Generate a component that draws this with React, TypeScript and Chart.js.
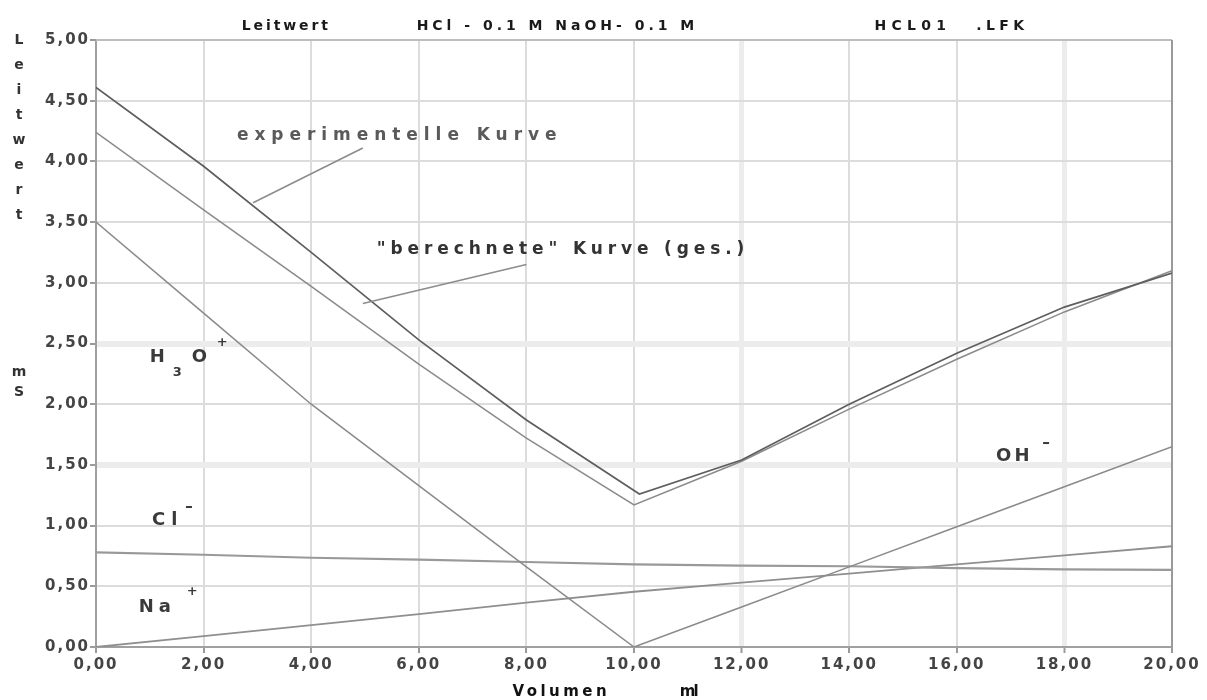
import React, { useEffect, useRef } from "react";
import { Chart, registerables } from "chart.js";

Chart.register(...registerables);

// ---- data ----
const volume = [0, 2, 4, 6, 8, 10, 12, 14, 16, 18, 20];
const expVolume = [0, 2, 4, 6, 8, 10.1, 12, 14, 16, 18, 20];
const expValues = [4.61, 3.96, 3.25, 2.53, 1.87, 1.26, 1.54, 2.0, 2.42, 2.8, 3.08];
const calcValues = [4.24, 3.6, 2.97, 2.33, 1.72, 1.17, 1.53, 1.96, 2.37, 2.76, 3.1];
const h3oVolume = [0, 2, 4, 6, 8, 10];
const h3oValues = [3.5, 2.75, 2.0, 1.33, 0.66, 0];
const ohVolume = [10, 12, 14, 16, 18, 20];
const ohValues = [0, 0.33, 0.66, 0.99, 1.32, 1.65];
const clValues = [0.78, 0.76, 0.735, 0.72, 0.7, 0.68, 0.67, 0.665, 0.65, 0.64, 0.635];
const naValues = [0, 0.09, 0.18, 0.27, 0.365, 0.455, 0.53, 0.605, 0.68, 0.755, 0.83];

const xTicksMin = 0;
const xTicksMax = 20;
const xStep = 2;
const yTicksMin = 0;
const yTicksMax = 5;
const yStep = 0.5;

const titleParts = [
  { text: "Leitwert", x0: 2.71, x1: 4.31 },
  { text: "HCl - 0.1 M NaOH- 0.1 M", x0: 5.96, x1: 11.12 },
  { text: "HCL01", x0: 14.47, x1: 15.8 },
  { text: ".LFK", x0: 16.36, x1: 17.25 },
];
const yTitleTop = ["L", "e", "i", "t", "w", "e", "r", "t"];
const yTitleUnit = ["m", "S"];
const xTitleParts = [
  { text: "Volumen", x0: 7.74, x1: 9.49 },
  { text: "ml", x0: 10.85, x1: 11.2 },
];

const zip = (xs: number[], ys: number[]) => xs.map((x, i) => ({ x, y: ys[i] }));

function spacedText(ctx: CanvasRenderingContext2D, text: string, x0: number, x1: number, y: number) {
  (ctx as any).letterSpacing = "0px";
  const w = ctx.measureText(text).width;
  const sp = text.length > 1 ? (x1 - x0 - w) / (text.length - 1) : 0;
  (ctx as any).letterSpacing = sp + "px";
  ctx.textAlign = "left";
  ctx.fillText(text, x0, y);
  (ctx as any).letterSpacing = "0px";
}

function plainText(ctx: CanvasRenderingContext2D, text: string, x: number, y: number, spacing: number) {
  (ctx as any).letterSpacing = spacing + "px";
  ctx.textAlign = "left";
  ctx.fillText(text, x, y);
  (ctx as any).letterSpacing = "0px";
}

const decorPlugin = {
  id: "decor",
  beforeDraw(chart: any) {
    (chart.ctx as any).letterSpacing = "2px";
  },
  beforeDatasetsDraw(chart: any) {
    const { ctx, chartArea } = chart;
    ctx.save();
    (ctx as any).letterSpacing = "0px";
    ctx.strokeStyle = "#bdbdbd";
    ctx.lineWidth = 2;
    ctx.beginPath();
    ctx.moveTo(chartArea.left, chartArea.top);
    ctx.lineTo(chartArea.right, chartArea.top);
    ctx.stroke();
    ctx.strokeStyle = "#9a9a9a";
    ctx.beginPath();
    ctx.moveTo(chartArea.right, chartArea.top);
    ctx.lineTo(chartArea.right, chartArea.bottom + 2);
    ctx.stroke();
    ctx.restore();
  },
  afterDraw(chart: any) {
    const { ctx, chartArea } = chart;
    const xs = chart.scales.x;
    const ys = chart.scales.y;
    const px = (v: number) => xs.getPixelForValue(v);
    const py = (v: number) => ys.getPixelForValue(v);
    ctx.save();
    (ctx as any).letterSpacing = "0px";
    ctx.textBaseline = "middle";

    // title
    ctx.fillStyle = "#1a1a1a";
    ctx.font = "bold 14px 'DejaVu Sans'";
    const titleY = chartArea.top - 14;
    titleParts.forEach((p) => spacedText(ctx, p.text, px(p.x0), px(p.x1), titleY));

    // y-axis title, stacked letters
    ctx.fillStyle = "#333";
    ctx.font = "bold 14px 'DejaVu Sans'";
    ctx.textAlign = "center";
    const yx = chartArea.left - 77;
    yTitleTop.forEach((ch, i) => ctx.fillText(ch, yx, chartArea.top + i * 25));
    yTitleUnit.forEach((ch, i) => ctx.fillText(ch, yx, py(2.265) + i * 20));

    // x-axis title
    ctx.fillStyle = "#111";
    ctx.font = "bold 15px 'DejaVu Sans'";
    xTitleParts.forEach((p) => spacedText(ctx, p.text, px(p.x0), px(p.x1), chartArea.bottom + 45));

    // pointer lines
    ctx.strokeStyle = "#8c8c8c";
    ctx.lineWidth = 1.6;
    const pointers = [
      [4.96, 4.11, 2.92, 3.66],
      [8.0, 3.15, 4.96, 2.83],
    ];
    pointers.forEach(([a, b, c, d]) => {
      ctx.beginPath();
      ctx.moveTo(px(a), py(b));
      ctx.lineTo(px(c), py(d));
      ctx.stroke();
    });

    // curve labels
    ctx.font = "bold 17px 'DejaVu Sans'";
    ctx.fillStyle = "#5a5a5a";
    spacedText(ctx, "experimentelle Kurve", px(2.62), px(8.56), py(4.21));
    ctx.fillStyle = "#333";
    spacedText(ctx, "\"berechnete\" Kurve (ges.)", px(5.22), px(12.05), py(3.27));

    // ion labels
    ctx.fillStyle = "#3a3a3a";
    const big = "bold 18px 'DejaVu Sans'";
    const small = "bold 13px 'DejaVu Sans'";
    // H3O+
    let ax = px(0.998), ay = py(2.39);
    ctx.font = big; plainText(ctx, "H", ax, ay, 0);
    ctx.font = small; plainText(ctx, "3", ax + 23, ay + 16, 0);
    ctx.font = big; plainText(ctx, "O", ax + 42, ay, 0);
    ctx.font = small; plainText(ctx, "+", ax + 67, ay - 14, 0);
    // Cl-
    ax = px(1.04); ay = py(1.046);
    ctx.font = big; plainText(ctx, "Cl", ax, ay, 6);
    ctx.fillRect(ax + 34, ay - 14, 6, 2);
    // Na+
    ax = px(0.795); ay = py(0.33);
    ctx.font = big; plainText(ctx, "Na", ax, ay, 5);
    ctx.font = small; plainText(ctx, "+", ax + 48, ay - 15, 0);
    // OH-
    ax = px(16.73); ay = py(1.573);
    ctx.font = big; plainText(ctx, "OH", ax, ay, 3);
    ctx.fillRect(ax + 47, ay - 14, 6, 2);

    ctx.restore();
  },
};

const fmt = (v: any) => Number(v).toFixed(2).replace(".", ",");

export default function App() {
  const ref = useRef<HTMLCanvasElement | null>(null);
  useEffect(() => {
    if (!ref.current) return;
    const lineStyle = (color: string, width = 1.5) => ({
      borderColor: color,
      backgroundColor: color,
      borderWidth: width,
      pointRadius: 0,
      tension: 0,
      fill: false,
    });
    const chart = new Chart(ref.current, {
      type: "line",
      data: {
        datasets: [
          { label: "experimentelle Kurve", data: zip(expVolume, expValues), ...lineStyle("#5e5e5e", 1.7) },
          { label: "berechnete Kurve", data: zip(volume, calcValues), ...lineStyle("#8a8a8a") },
          { label: "H3O+", data: zip(h3oVolume, h3oValues), ...lineStyle("#8a8a8a") },
          { label: "OH-", data: zip(ohVolume, ohValues), ...lineStyle("#8a8a8a") },
          { label: "Cl-", data: zip(volume, clValues), ...lineStyle("#999999", 2.2) },
          { label: "Na+", data: zip(volume, naValues), ...lineStyle("#8f8f8f", 1.8) },
        ],
      },
      options: {
        animation: false,
        responsive: true,
        maintainAspectRatio: false,
        layout: { padding: { left: 0, right: 35, top: 40, bottom: 0 } },
        plugins: { legend: { display: false }, tooltip: { enabled: false }, title: { display: false } },
        scales: {
          x: {
            type: "linear",
            min: xTicksMin,
            max: xTicksMax,
            afterFit: (s: any) => { s.height = 53; },
            ticks: {
              stepSize: xStep,
              callback: fmt,
              color: "#444",
              font: { family: "'DejaVu Sans'", size: 15, weight: "bold" },
              padding: 3,
              maxRotation: 0,
            },
            grid: {
              color: (c: any) => (c.tick && (c.tick.value === 12 || c.tick.value === 18) ? "#ececec" : "#dcdcdc"),
              lineWidth: (c: any) => (c.tick && (c.tick.value === 12 || c.tick.value === 18) ? 5 : 2),
              tickColor: "#9a9a9a",
              tickLength: 6,
              tickWidth: 2,
            },
            border: { color: "#a0a0a0", width: 2 },
          },
          y: {
            type: "linear",
            min: yTicksMin,
            max: yTicksMax,
            afterFit: (s: any) => { s.width = 96; },
            ticks: {
              stepSize: yStep,
              callback: fmt,
              color: "#444",
              font: { family: "'DejaVu Sans'", size: 15, weight: "bold" },
              padding: 0,
            },
            grid: {
              color: (c: any) => (c.tick && (c.tick.value === 2.5 || c.tick.value === 1.5) ? "#ececec" : "#dcdcdc"),
              lineWidth: (c: any) => (c.tick && (c.tick.value === 2.5 || c.tick.value === 1.5) ? 6 : 2),
              tickColor: "#9a9a9a",
              tickLength: 6,
              tickWidth: 2,
            },
            border: { color: "#a0a0a0", width: 2 },
          },
        },
      },
      plugins: [decorPlugin],
    });
    return () => chart.destroy();
  }, []);
  return (
    <div style={{ position: "absolute", left: 0, top: 0, width: 1207, height: 700, background: "#fff" }}>
      <canvas ref={ref} />
    </div>
  );
}
